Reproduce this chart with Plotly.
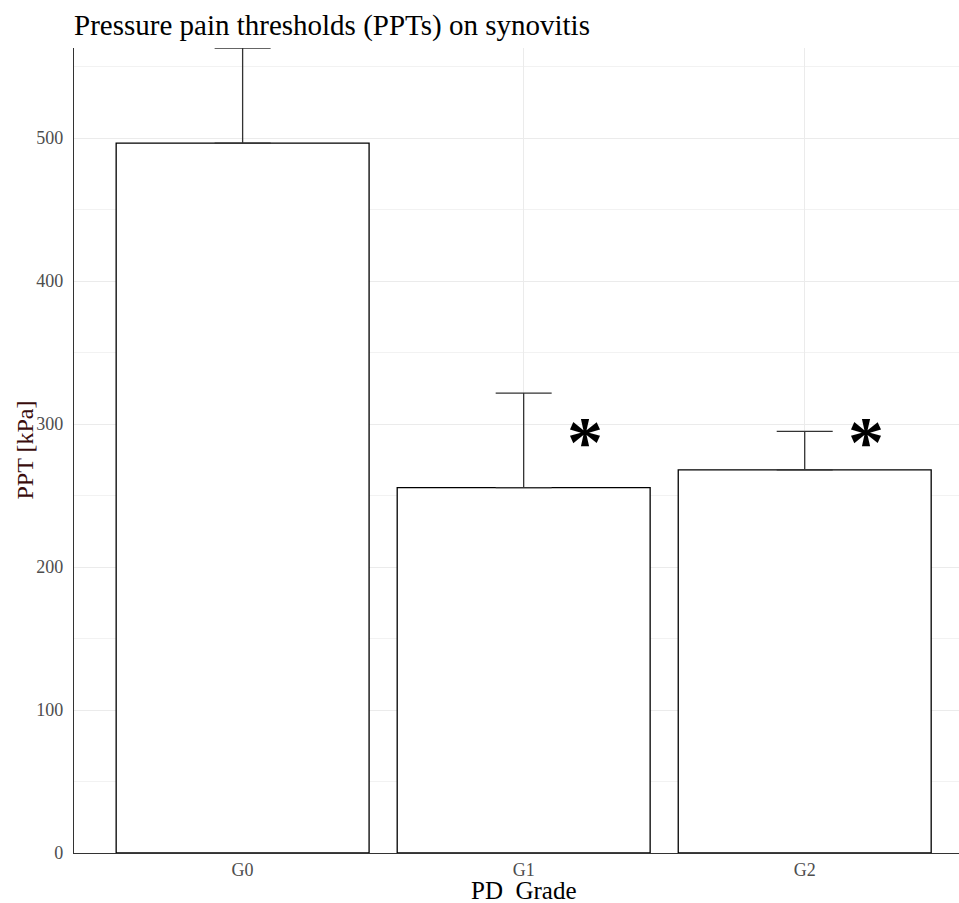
import plotly.graph_objects as go

categories = ["G0", "G1", "G2"]
means = [496.5, 255.6, 267.9]
err_upper = [66.5, 66.0, 27.0]
err_lower = [0, 0, 0]
star_x = [1.217, 2.218]
star_y = [292, 292]
y_ticks = [0, 100, 200, 300, 400, 500]

SERIF = "Liberation Serif, Times New Roman, serif"

fig = go.Figure()
fig.add_trace(go.Bar(
    x=[0, 1, 2], y=means, width=0.9,
    marker=dict(color="white", line=dict(color="black", width=1.3)),
    error_y=dict(type="data", symmetric=False, array=err_upper, arrayminus=err_lower,
                 color="#333333", thickness=1.3, width=28),
    showlegend=False, hoverinfo="skip",
))

for sx, sy in zip(star_x, star_y):
    fig.add_annotation(x=sx, y=sy, xref="x", yref="y", text="<b>*</b>", showarrow=False,
                       font=dict(family=SERIF, size=72, color="black"),
                       xanchor="center", yanchor="middle", yshift=-7)

fig.add_annotation(x=1, y=0, xref="x", yref="paper", text="PD  Grade", showarrow=False,
                   font=dict(family=SERIF, size=25, color="black"),
                   xanchor="center", yanchor="top", yshift=-22)

fig.add_annotation(x=0, y=0.5, xref="paper", yref="paper", text="PPT [kPa]", showarrow=False,
                   textangle=-90, font=dict(family=SERIF, size=24, color="#3a0c0c"),
                   xanchor="center", yanchor="middle", xshift=-50)

fig.update_layout(
    width=959, height=903,
    margin=dict(l=74, r=0, t=48, b=50),
    plot_bgcolor="white", paper_bgcolor="white",
    title=dict(text="Pressure pain thresholds (PPTs) on synovitis",
               x=74/959, xref="container", xanchor="left",
               y=1 - 15/903, yref="container", yanchor="top",
               font=dict(family=SERIF, size=29, color="black")),
    bargap=0.1,
)
fig.update_xaxes(
    tickmode="array", tickvals=[0, 1, 2], ticktext=categories,
    range=[-0.6, 2.549],
    showgrid=True, gridcolor="#ebebeb", gridwidth=1,
    showline=True, linecolor="#333333", linewidth=1.3,
    ticks="", tickfont=dict(family=SERIF, size=18, color="#4d4d4d"),
    ticklabelstandoff=0, zeroline=False,
)
fig.update_yaxes(
    range=[0, 563], tickmode="array", tickvals=y_ticks,
    showgrid=True, gridcolor="#ebebeb", gridwidth=1,
    minor=dict(dtick=50, showgrid=True, gridcolor="#f2f2f2", gridwidth=1),
    showline=True, linecolor="#333333", linewidth=1.3,
    ticks="", tickfont=dict(family=SERIF, size=18, color="#4d4d4d"),
    ticklabelstandoff=6, zeroline=False,
)

fig.write_html("out.html", config={"displayModeBar": False},
               post_script="document.body.style.margin='0';document.body.style.overflow='hidden';")
